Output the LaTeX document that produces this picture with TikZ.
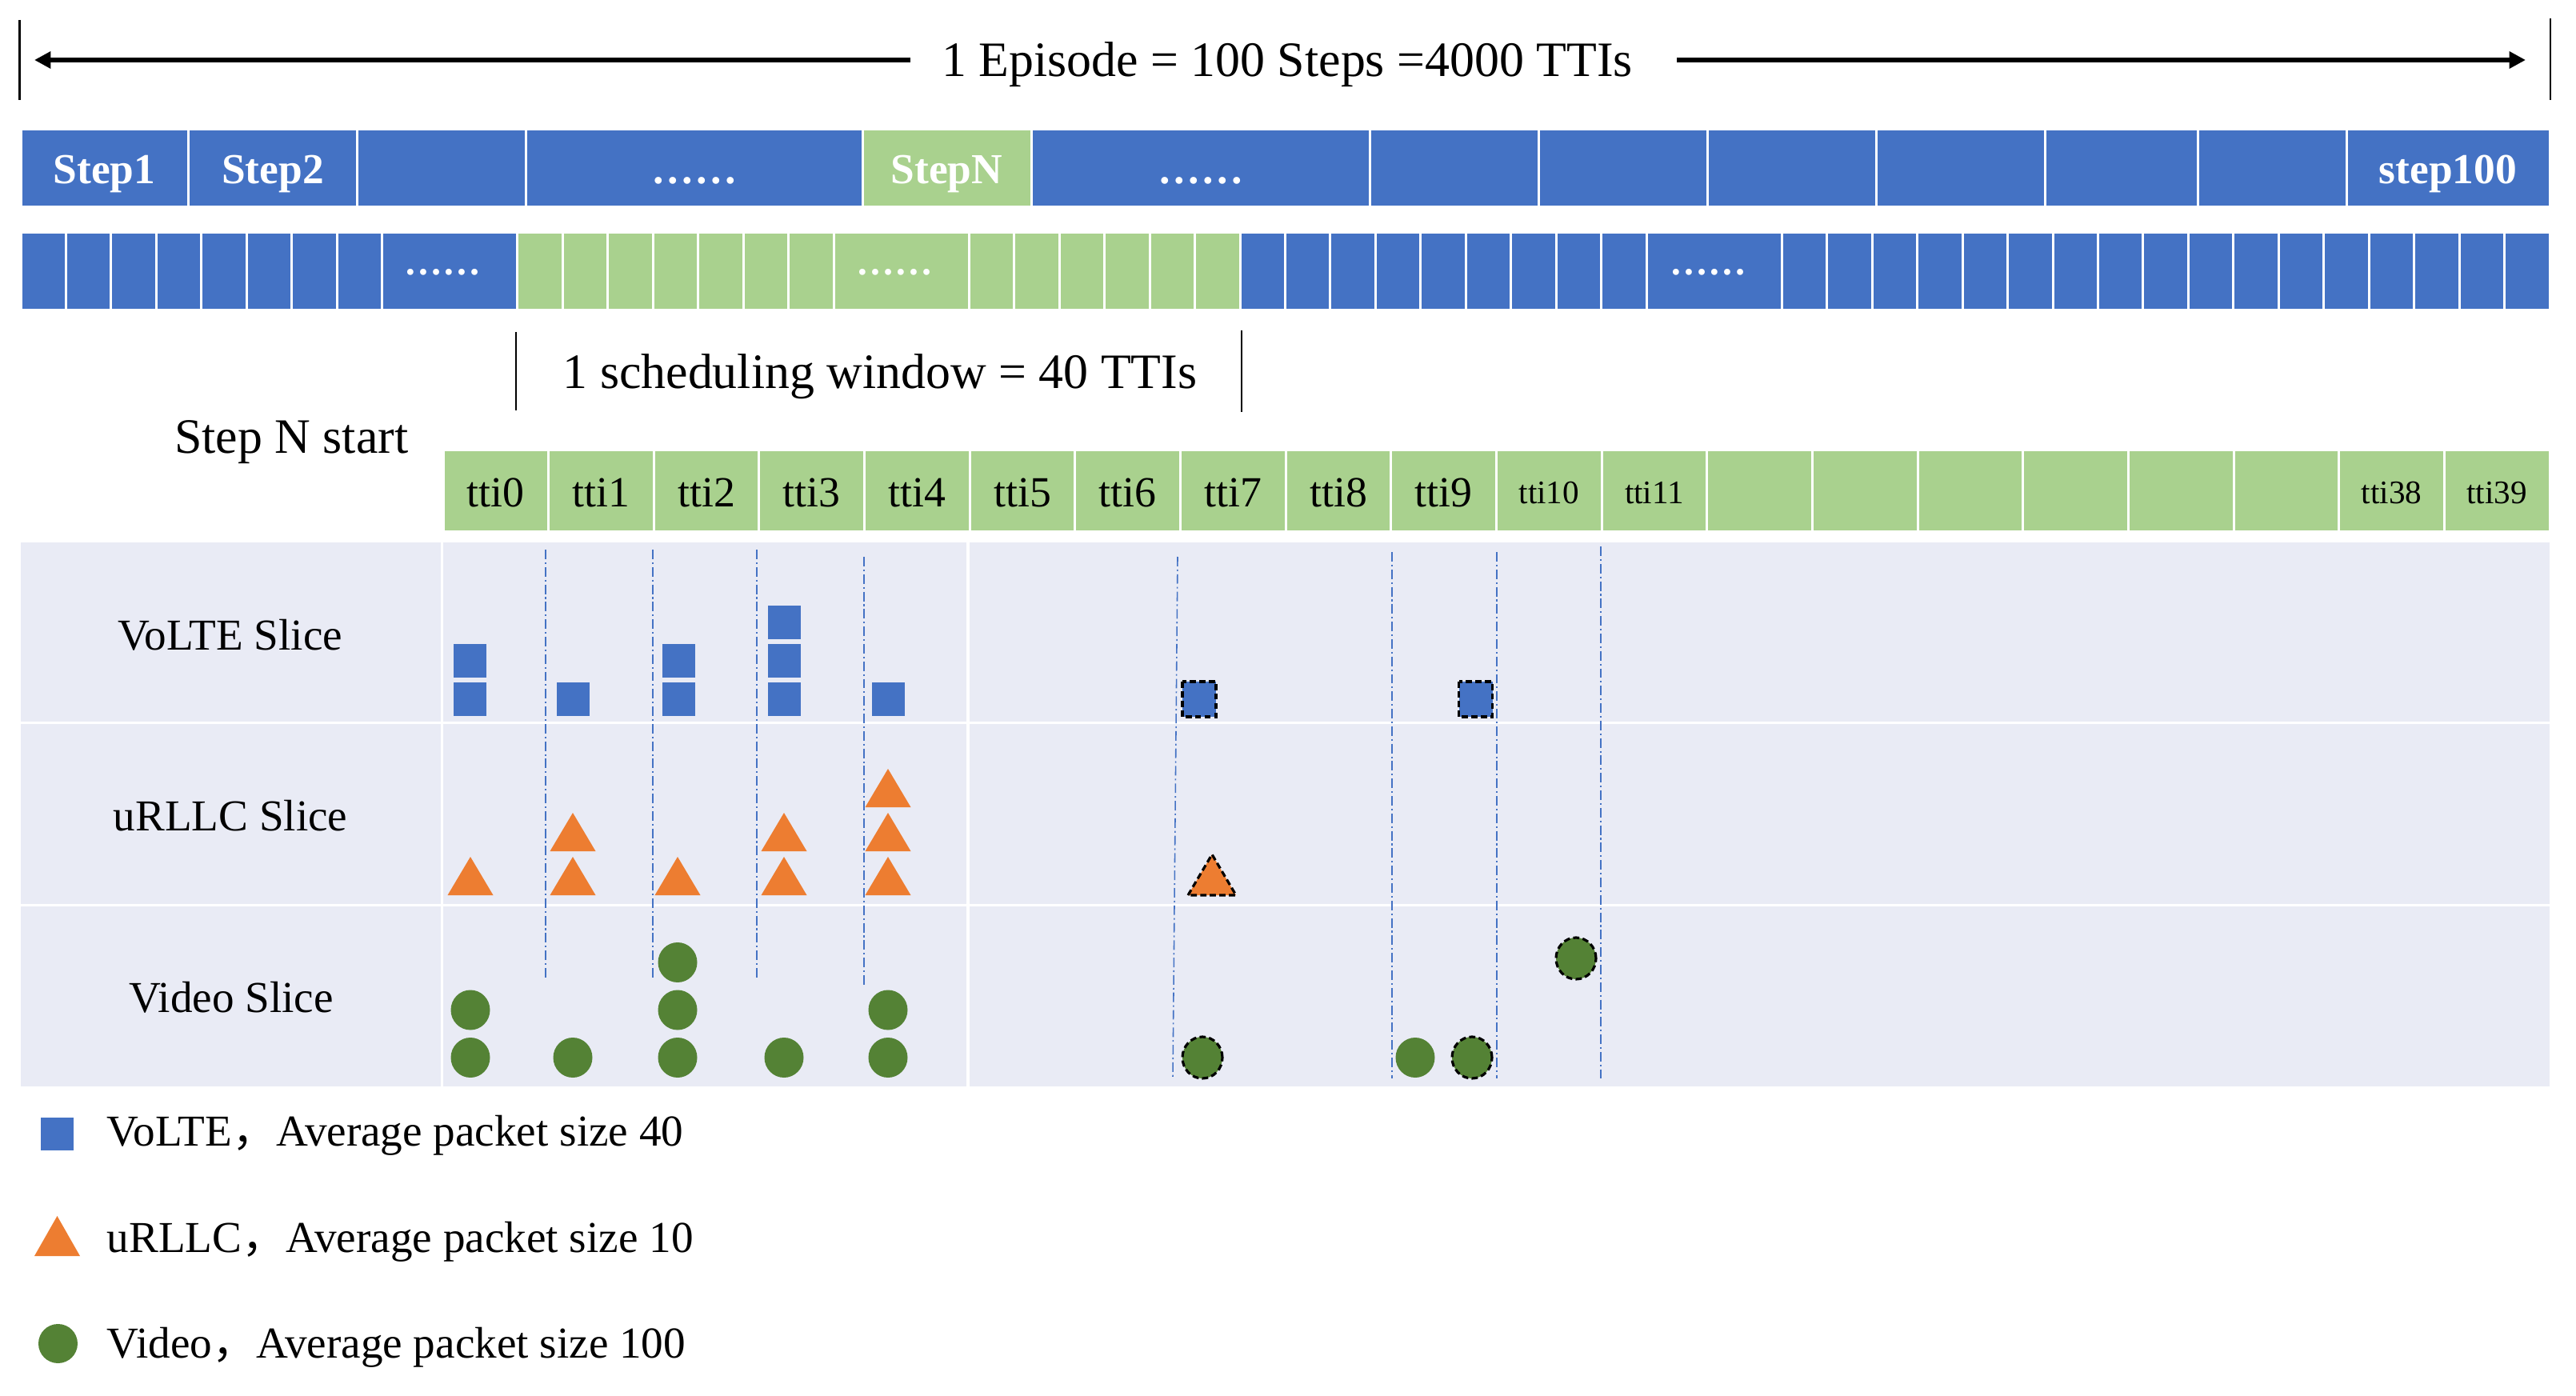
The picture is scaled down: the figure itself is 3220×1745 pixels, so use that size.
\documentclass[tikz,border=0pt]{standalone}
\usepackage{fontspec}
\setmainfont{Liberation Serif}
\newfontfamily\cjkfont{Noto Sans CJK SC}
\usetikzlibrary{arrows.meta}
\definecolor{cblue}{HTML}{4472C4}
\definecolor{cgreen}{HTML}{A9D18E}
\definecolor{cgrey}{HTML}{E9EBF5}
\definecolor{corange}{HTML}{ED7D31}
\definecolor{cdgreen}{HTML}{548235}
\tikzset{
  bigtxt/.style={font=\fontsize{17.6pt}{20pt}\selectfont, inner sep=0pt},
  steptxt/.style={font=\fontsize{15.2pt}{18pt}\selectfont\bfseries, text=white, inner sep=0pt, anchor=base},
  dotstxt/.style={font=\fontsize{13.6pt}{16pt}\selectfont\bfseries, text=white, inner sep=0pt, anchor=base},
  ttitxt/.style={font=\fontsize{15.3pt}{18pt}\selectfont, inner sep=0pt, anchor=base},
  ttismall/.style={font=\fontsize{11.7pt}{14pt}\selectfont, inner sep=0pt, anchor=base},
  slicetxt/.style={font=\fontsize{15.7pt}{18pt}\selectfont, inner sep=0pt, anchor=base},
  legtxt/.style={font=\fontsize{15.7pt}{18pt}\selectfont, inner sep=0pt, anchor=base west},
  thinbar/.style={black, line width=0.8pt},
  eparrow/.style={black, line width=1.8pt, -{Triangle[length=5.8pt,width=5.8pt]}},
  guide/.style={cblue, line width=0.45pt, dash pattern=on 3.4pt off 1.1pt on 0.6pt off 1.1pt},
  lost/.style={draw=black, line width=0.9pt, dash pattern=on 2.2pt off 1.2pt},
  sep/.style={white, line width=1.1pt}
}
\begin{document}
\begin{tikzpicture}[x=0.1mm,y=-0.1mm]
\useasboundingbox[fill=white] (0,0) rectangle (3220,1745);

% ---------- episode span ----------
\draw[thinbar] (24.5,25) -- (24.5,125);
\draw[thinbar] (3188,23) -- (3188,125);
\node[bigtxt, anchor=base, inner xsep=3.9mm] (ep) at (1609,96) {1 Episode = 100 Steps =4000 TTIs};
\coordinate (epL) at (43,75);
\coordinate (epR) at (3157,75);
\draw[eparrow] (ep.west |- epL) -- (epL);
\draw[eparrow] ([xshift=1.6mm]ep.east |- epR) -- (epR);

% ---------- steps row ----------
\foreach \a/\b/\c in {26/235/cblue,235/446/cblue,446/657/cblue,657/1078/cblue,1078/1289/cgreen,1289/1712/cblue,1712/1923/cblue,1923/2134/cblue,2134/2345/cblue,2345/2556/cblue,2556/2747/cblue,2747/2933/cblue,2933/3187/cblue}
  \fill[\c] ({\a+1.5},163) rectangle ({\b-1.5},257);
\node[steptxt] (st1) at (130.5,230) {Step1};
\node[steptxt] (st2) at (341,230) {Step2};
\node[steptxt] (stdA) at (868,230) {……};
\node[steptxt] (stN) at (1183.5,230) {StepN};
\node[steptxt] (stdB) at (1501,230) {……};
\node[steptxt] (st100) at (3060,230) {step100};

% ---------- TTI row ----------
\foreach \i in {0,...,7}
  \fill[cblue] ({26+\i*56.446+1.5},292) rectangle ({26+(\i+1)*56.446-1.5},386);
\fill[cblue] (479,292) rectangle (645.4,386);
\foreach \i in {11,...,17}
  \fill[cgreen] ({26+\i*56.446+1.5},292) rectangle ({26+(\i+1)*56.446-1.5},386);
\fill[cgreen] (1043.5,292) rectangle (1209.9,386);
\foreach \i in {21,...,26}
  \fill[cgreen] ({26+\i*56.446+1.5},292) rectangle ({26+(\i+1)*56.446-1.5},386);
\foreach \i in {27,...,35}
  \fill[cblue] ({26+\i*56.446+1.5},292) rectangle ({26+(\i+1)*56.446-1.5},386);
\fill[cblue] (2059.6,292) rectangle (2226,386);
\foreach \i in {39,...,55}
  \fill[cblue] ({26+\i*56.446+1.5},292) rectangle ({26+(\i+1)*56.446-1.5},386);
\node[dotstxt] (tdA) at (553,343) {……};
\node[dotstxt] (tdB) at (1118,343) {……};
\node[dotstxt] (tdC) at (2135,343) {……};

% ---------- scheduling window ----------
\draw[thinbar] (645,415) -- (645,513);
\draw[thinbar] (1552,413) -- (1552,515);
\node[bigtxt, anchor=base] (sw) at (1100,485) {1 scheduling window = 40 TTIs};
\node[bigtxt, anchor=base east] (snstart) at (511,566) {Step N start};

% ---------- tti header ----------
\foreach \k in {0,...,19}
  \fill[cgreen] ({554+131.65*\k+1.5},564) rectangle ({554+131.65*(\k+1)-1.5},663);
\foreach \k in {0,...,9}
  \node[ttitxt] (tti\k) at ({554+131.65*(\k+0.5)},633) {tti\k};
\foreach \k/\n in {10/10,11/11,18/38,19/39}
  \node[ttismall] (tti\n) at ({554+131.65*(\k+0.5)},629) {tti\n};

% ---------- slice area ----------
\fill[cgrey] (26,678) rectangle (3187,1358);
\draw[sep] (26,903.5) -- (3187,903.5);
\draw[sep] (26,1131.5) -- (3187,1131.5);
\draw[sep] (552.5,678) -- (552.5,1358);
\draw[sep] (1210,678) -- (1210,1358);
\node[slicetxt] (volte) at (288,812) {VoLTE Slice};
\node[slicetxt] (urllc) at (288,1038) {uRLLC Slice};
\node[slicetxt] (video) at (289,1265) {Video Slice};

% guide lines
\draw[guide] (682,687) -- (682,1222);
\draw[guide] (816,687) -- (816,1222);
\draw[guide] (946,687) -- (946,1222);
\draw[guide] (1080,696) -- (1080,1231);
\draw[guide] (1472,696) -- (1466,1348);
\draw[guide] (1740,690) -- (1740,1348);
\draw[guide] (1871,690) -- (1871,1348);
\draw[guide] (2001,683) -- (2001,1348);

% VoLTE packets
\foreach \x/\y in {587.5/874,587.5/826,716.5/874,848/874,848/826,980.5/874,980.5/826,980.5/778,1110.5/874}
  \fill[cblue] ({\x-20.5},{\y-21}) rectangle ({\x+20.5},{\y+21});
\foreach \x/\y in {1499/874,1844.5/874}
  \filldraw[fill=cblue, lost] ({\x-21},{\y-22}) rectangle ({\x+21},{\y+22});

% uRLLC packets
\foreach \x/\b in {588/1119,716/1119,716/1064,847/1119,980/1119,980/1064,1110/1119,1110/1064,1110/1009}
  \fill[corange] ({\x-28.5},\b) -- (\x,{\b-48}) -- ({\x+28.5},\b) -- cycle;
\filldraw[fill=corange, lost] (1485,1119) -- (1515,1068) -- (1545,1119) -- cycle;

% Video packets
\foreach \x/\y in {588/1322,588/1262.5,716/1322,847/1322,847/1262.5,847/1203,980/1322,1110/1322,1110/1262.5,1769/1322}
  \fill[cdgreen] (\x,\y) ellipse [x radius=2.45mm, y radius=2.5mm];
\foreach \x/\y in {1503/1322,1840/1322,1970/1198}
  \filldraw[fill=cdgreen, lost] (\x,\y) ellipse [x radius=2.5mm, y radius=2.6mm];

% ---------- legend ----------
\fill[cblue] (51,1397) rectangle (92,1438);
\node[legtxt] (legA) at (133,1432) {VoLTE{\cjkfont ，}Average packet size 40};
\fill[corange] (43,1570) -- (71.5,1520) -- (100,1570) -- cycle;
\node[legtxt] (legB) at (133,1565) {uRLLC{\cjkfont ，}Average packet size 10};
\fill[cdgreen] (72.5,1679.5) ellipse [x radius=2.45mm, y radius=2.45mm];
\node[legtxt] (legC) at (133,1697) {Video{\cjkfont ，}Average packet size 100};
\end{tikzpicture}
\end{document}
